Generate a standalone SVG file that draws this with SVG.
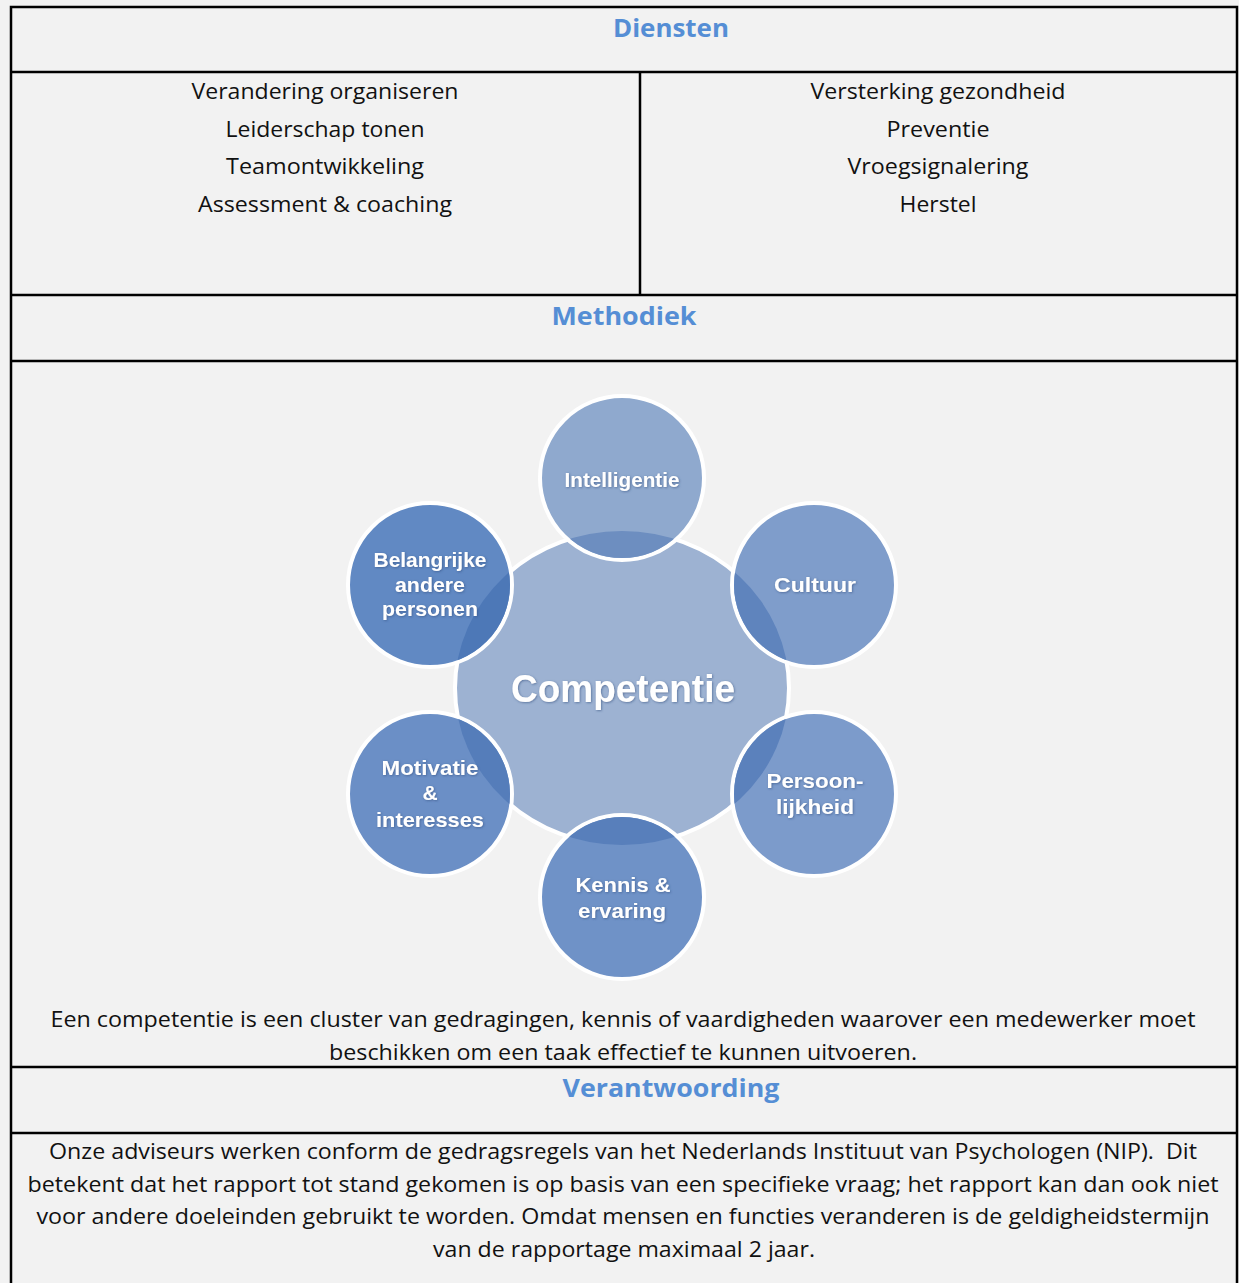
<svg xmlns="http://www.w3.org/2000/svg" width="1239" height="1283" viewBox="0 0 1239 1283">
  <style>
    .grid { stroke: #000; stroke-width: 2.5; fill: none; }
    .head { font-family: "Open Sans", "Liberation Sans", sans-serif; font-weight: bold; font-size: 25px; fill: #558ED5; text-anchor: middle; }
    .body { font-family: "Open Sans", "Liberation Sans", sans-serif; font-size: 21px; fill: #111; text-anchor: middle; }
    .bubble { stroke: #fff; stroke-width: 4; }
    .lbl { font-family: "Liberation Sans", Arial, sans-serif; font-weight: bold; font-size: 21px; fill: #fff; text-anchor: middle; }
    .big { font-family: "Liberation Sans", Arial, sans-serif; font-weight: bold; font-size: 38px; fill: #fff; text-anchor: middle; }
  </style>
  <defs>
    <clipPath id="core">
      <ellipse cx="622" cy="688" rx="167" ry="157"/>
    </clipPath>
    <filter id="soft" x="-20%" y="-20%" width="140%" height="140%">
      <feDropShadow dx="0.8" dy="0.8" stdDeviation="0.8" flood-color="#2c4a78" flood-opacity="0.6"/>
    </filter>
  </defs>

  <!-- page -->
  <rect x="0" y="0" width="1239" height="1283" fill="#f2f2f2"/>

  <!-- table lines -->
  <g id="table">
    <path class="grid" d="M11 1283 V7 H1237 V1283"/>
    <path class="grid" d="M11 72 H1237 M640 72 V295 M11 295 H1237 M11 361 H1237 M11 1067 H1237 M11 1133 H1237"/>
  </g>

  <!-- Diensten -->
  <g id="diensten">
    <text class="head" x="671" y="37" textLength="116" lengthAdjust="spacingAndGlyphs">Diensten</text>
  </g>
  <g id="diensten-links">
    <text class="body" x="325" y="99" textLength="267" lengthAdjust="spacingAndGlyphs">Verandering organiseren</text>
    <text class="body" x="325" y="137" textLength="199" lengthAdjust="spacingAndGlyphs">Leiderschap tonen</text>
    <text class="body" x="325" y="174" textLength="198" lengthAdjust="spacingAndGlyphs">Teamontwikkeling</text>
    <text class="body" x="325" y="212" textLength="254" lengthAdjust="spacingAndGlyphs">Assessment &amp; coaching</text>
  </g>
  <g id="diensten-rechts">
    <text class="body" x="938" y="99" textLength="255" lengthAdjust="spacingAndGlyphs">Versterking gezondheid</text>
    <text class="body" x="938" y="137" textLength="103" lengthAdjust="spacingAndGlyphs">Preventie</text>
    <text class="body" x="938" y="174" textLength="181" lengthAdjust="spacingAndGlyphs">Vroegsignalering</text>
    <text class="body" x="938" y="212" textLength="77" lengthAdjust="spacingAndGlyphs">Herstel</text>
  </g>

  <!-- Methodiek -->
  <g id="methodiek">
    <text class="head" x="624" y="325" textLength="145" lengthAdjust="spacingAndGlyphs">Methodiek</text>
  </g>

  <!-- competency wheel -->
  <g id="competentie">
    <ellipse class="bubble" cx="622" cy="688" rx="167" ry="157" fill="#9db2d2"/>
    <text class="big" x="623" y="702" filter="url(#soft)" textLength="224" lengthAdjust="spacingAndGlyphs">Competentie</text>
  </g>

  <g id="intelligentie">
    <circle class="bubble" cx="622" cy="478" r="82" fill="#8fa9ce"/>
    <circle cx="622" cy="478" r="80" fill="#6d8ec0" clip-path="url(#core)"/>
    <text class="lbl" x="622" y="487" filter="url(#soft)" textLength="115" lengthAdjust="spacingAndGlyphs">Intelligentie</text>
  </g>

  <g id="cultuur">
    <circle class="bubble" cx="814" cy="585" r="82" fill="#7f9dcb"/>
    <circle cx="814" cy="585" r="80" fill="#5f84bd" clip-path="url(#core)"/>
    <text class="lbl" x="815" y="592" filter="url(#soft)" textLength="82" lengthAdjust="spacingAndGlyphs">Cultuur</text>
  </g>

  <g id="persoonlijkheid">
    <circle class="bubble" cx="814" cy="794" r="82" fill="#7c9bcb"/>
    <circle cx="814" cy="794" r="80" fill="#5b81bc" clip-path="url(#core)"/>
    <text class="lbl" x="815" y="788" filter="url(#soft)" textLength="97" lengthAdjust="spacingAndGlyphs">Persoon-</text>
    <text class="lbl" x="815" y="814" filter="url(#soft)" textLength="78" lengthAdjust="spacingAndGlyphs">lijkheid</text>
  </g>

  <g id="kennis">
    <circle class="bubble" cx="622" cy="897" r="82" fill="#6f92c7"/>
    <circle cx="622" cy="897" r="80" fill="#587fbb" clip-path="url(#core)"/>
    <text class="lbl" x="623" y="892" filter="url(#soft)" textLength="95" lengthAdjust="spacingAndGlyphs">Kennis &amp;</text>
    <text class="lbl" x="622" y="918" filter="url(#soft)" textLength="88" lengthAdjust="spacingAndGlyphs">ervaring</text>
  </g>

  <g id="motivatie">
    <circle class="bubble" cx="430" cy="794" r="82" fill="#6b8fc6"/>
    <circle cx="430" cy="794" r="80" fill="#557dba" clip-path="url(#core)"/>
    <text class="lbl" x="430" y="775" filter="url(#soft)" textLength="97" lengthAdjust="spacingAndGlyphs">Motivatie</text>
    <text class="lbl" x="430" y="800" filter="url(#soft)">&amp;</text>
    <text class="lbl" x="430" y="827" filter="url(#soft)" textLength="108" lengthAdjust="spacingAndGlyphs">interesses</text>
  </g>

  <g id="belangrijke">
    <circle class="bubble" cx="430" cy="585" r="82" fill="#6189c3"/>
    <circle cx="430" cy="585" r="80" fill="#4d78b7" clip-path="url(#core)"/>
    <text class="lbl" x="430" y="567" filter="url(#soft)" textLength="113" lengthAdjust="spacingAndGlyphs">Belangrijke</text>
    <text class="lbl" x="430" y="592" filter="url(#soft)" textLength="70" lengthAdjust="spacingAndGlyphs">andere</text>
    <text class="lbl" x="430" y="616" filter="url(#soft)" textLength="96" lengthAdjust="spacingAndGlyphs">personen</text>
  </g>

  <g id="definitie">
    <text class="body" x="623" y="1027" textLength="1145" lengthAdjust="spacingAndGlyphs">Een competentie is een cluster van gedragingen, kennis of vaardigheden waarover een medewerker moet</text>
    <text class="body" x="623" y="1060" textLength="588" lengthAdjust="spacingAndGlyphs">beschikken om een taak effectief te kunnen uitvoeren.</text>
  </g>

  <!-- Verantwoording -->
  <g id="verantwoording">
    <text class="head" x="671" y="1097" textLength="217" lengthAdjust="spacingAndGlyphs">Verantwoording</text>
  </g>
  <g id="verantwoording-tekst">
    <text class="body" x="623" y="1159" textLength="1148" lengthAdjust="spacingAndGlyphs" xml:space="preserve">Onze adviseurs werken conform de gedragsregels van het Nederlands Instituut van Psychologen (NIP).  Dit</text>
    <text class="body" x="623" y="1192" textLength="1191" lengthAdjust="spacingAndGlyphs">betekent dat het rapport tot stand gekomen is op basis van een specifieke vraag; het rapport kan dan ook niet</text>
    <text class="body" x="623" y="1224" textLength="1173" lengthAdjust="spacingAndGlyphs">voor andere doeleinden gebruikt te worden. Omdat mensen en functies veranderen is de geldigheidstermijn</text>
    <text class="body" x="624" y="1257" textLength="382" lengthAdjust="spacingAndGlyphs">van de rapportage maximaal 2 jaar.</text>
  </g>
</svg>
